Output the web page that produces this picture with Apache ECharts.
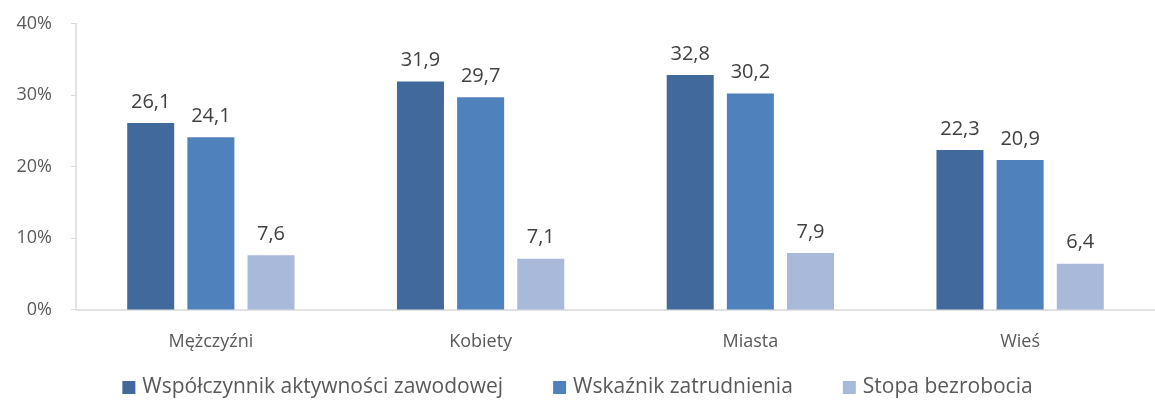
<!DOCTYPE html>
<html>
<head>
<meta charset="utf-8">
<script src="https://cdn.jsdelivr.net/npm/echarts@6/dist/echarts.min.js"></script>
<style>
  html, body { margin: 0; padding: 0; background: #fff; }
  #main { width: 1155px; height: 402px; }
</style>
</head>
<body>
<div id="main"></div>
<script>
// dane
var categories = ['Mężczyźni', 'Kobiety', 'Miasta', 'Wieś'];
var seriesNames = ['Współczynnik aktywności zawodowej', 'Wskaźnik zatrudnienia', 'Stopa bezrobocia'];
var aktywnosc = [26.1, 31.9, 32.8, 22.3];
var zatrudnienie = [24.1, 29.7, 30.2, 20.9];
var bezrobocie = [7.6, 7.1, 7.9, 6.4];
var yTicks = [0, 10, 20, 30, 40];

var colors = ['#41699b', '#4f81bd', '#a9b9d9'];
var font = 'Open Sans';
var txt = '#595959';

var myChart = echarts.init(document.getElementById('main'));

function bar(name, data, i) {
    return {
        name: name,
        type: 'bar',
        data: data,
        barWidth: 47,
        barGap: '28%',
        itemStyle: { color: colors[i] },
        label: {
            show: true,
            position: 'top',
            distance: 11,
            color: '#404040',
            fontFamily: font,
            fontSize: 20,
            formatter: function(p) { return p.value.toFixed(1).replace('.', ','); }
        }
    };
}

var option = {
    animation: false,
    color: colors,
    grid: { left: 76, width: 1092, top: 23.5, bottom: 92.5, containLabel: false },
    legend: {
        top: 372,
        left: 'center',
        itemWidth: 13,
        itemHeight: 13,
        itemGap: 50,
        icon: 'rect',
        textStyle: { color: txt, fontFamily: font, fontSize: 21, padding: [0, 0, 0, 2] },
        data: seriesNames
    },
    xAxis: {
        type: 'category',
        data: categories,
        axisLine: { lineStyle: { color: '#d9d9d9', width: 1.5 } },
        axisTick: { show: false },
        axisLabel: { color: txt, fontFamily: font, fontSize: 18, margin: 23 }
    },
    yAxis: {
        type: 'value',
        min: yTicks[0],
        max: yTicks[yTicks.length - 1],
        interval: 10,
        splitLine: { show: false },
        axisLine: { show: true, lineStyle: { color: '#d9d9d9', width: 1.5 } },
        axisTick: { show: true, length: 5, lineStyle: { color: '#d9d9d9' } },
        axisLabel: { color: txt, fontFamily: font, fontSize: 18, margin: 24, formatter: '{value}%' }
    },
    series: [
        bar(seriesNames[0], aktywnosc, 0),
        bar(seriesNames[1], zatrudnienie, 1),
        bar(seriesNames[2], bezrobocie, 2)
    ]
};

myChart.setOption(option);
</script>
</body>
</html>
